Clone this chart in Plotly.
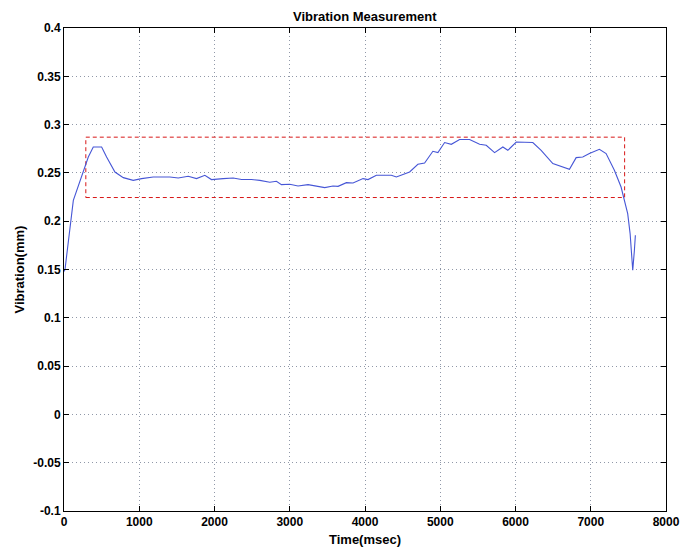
import plotly.graph_objects as go

time_ms = [0, 13, 124, 190, 279, 323, 389, 500, 566, 677, 788, 920, 1031, 1186, 1407, 1518,
           1651, 1761, 1872, 1960, 2115, 2248, 2359, 2492, 2602, 2735, 2823, 2890, 3000, 3110,
           3243, 3354, 3465, 3575, 3642, 3753, 3841, 3974, 4040, 4151, 4350, 4417, 4593, 4703,
           4792, 4902, 4969, 5058, 5147, 5257, 5390, 5523, 5611, 5722, 5832, 5898, 6010, 6230,
           6341, 6496, 6717, 6806, 6894, 6982, 7115, 7204, 7314, 7403, 7447, 7491, 7523, 7558,
           7580, 7593]
vibration = [0.148, 0.150, 0.2216, 0.2372, 0.2579, 0.2665, 0.2768, 0.2768, 0.2665, 0.2509,
             0.2451, 0.2423, 0.2441, 0.2458, 0.2458, 0.2447, 0.2465, 0.2441, 0.2475, 0.2431,
             0.2441, 0.2447, 0.2431, 0.2431, 0.2423, 0.2403, 0.2413, 0.2379, 0.2382, 0.2364,
             0.2379, 0.2361, 0.2348, 0.2364, 0.2361, 0.2399, 0.2395, 0.2441, 0.2431, 0.2475,
             0.2475, 0.2458, 0.2510, 0.2589, 0.2602, 0.2724, 0.2710, 0.2814, 0.2796, 0.2845,
             0.2845, 0.2796, 0.2786, 0.2710, 0.2768, 0.2734, 0.2820, 0.2814, 0.2734, 0.2596,
             0.2537, 0.2658, 0.2665, 0.2700, 0.2744, 0.2700, 0.2527, 0.2354, 0.2216, 0.2079,
             0.1872, 0.1492, 0.1699, 0.1855]

box_x = [290, 7450]
box_y = [0.2245, 0.287]

x_ticks = [0, 1000, 2000, 3000, 4000, 5000, 6000, 7000, 8000]
y_ticks = [-0.1, -0.05, 0, 0.05, 0.1, 0.15, 0.2, 0.25, 0.3, 0.35, 0.4]
y_labels = ["-0.1", "-0.05", "0", "0.05", "0.1", "0.15", "0.2", "0.25", "0.3", "0.35", "0.4"]

title_text = "Vibration Measurement"
x_title = "Time(msec)"
y_title = "Vibration(mm)"

fig = go.Figure()
fig.add_trace(go.Scatter(
    x=[box_x[0], box_x[1], box_x[1], box_x[0], box_x[0]],
    y=[box_y[0], box_y[0], box_y[1], box_y[1], box_y[0]],
    mode="lines", line=dict(color="#d81818", width=1, dash="4px,3px"),
    hoverinfo="skip", showlegend=False))
fig.add_trace(go.Scatter(
    x=time_ms, y=vibration, mode="lines",
    line=dict(color="#4656d6", width=1.1), showlegend=False))

font_family = "Liberation Sans, Arial, sans-serif"
tick_font = dict(family=font_family, size=12, color="black", weight="bold")
label_font = dict(family=font_family, size=13, color="black", weight="bold")

axis_common = dict(
    showline=True, linecolor="black", linewidth=1, mirror="ticks",
    ticks="inside", ticklen=5, tickcolor="black",
    showgrid=True, gridcolor="#9098a8", griddash="1px,3px", gridwidth=1,
    zeroline=False, automargin=False,
    tickfont=tick_font,
)

fig.update_layout(
    width=689, height=553,
    margin=dict(l=56, r=31, t=20, b=50),
    paper_bgcolor="white", plot_bgcolor="white",
    xaxis=dict(range=[0, 8000], tickvals=x_ticks, ticktext=[str(v) for v in x_ticks],
               **axis_common),
    yaxis=dict(range=[-0.1, 0.4], tickvals=y_ticks, ticktext=y_labels,
               **axis_common),
    annotations=[
        dict(text=title_text, xref="paper", yref="paper", x=0.5, y=1, xanchor="center",
             yanchor="middle", yshift=12, borderpad=0, showarrow=False, font=label_font),
        dict(text=x_title, xref="paper", yref="paper", x=0.5, y=0, xanchor="center",
             yanchor="middle", yshift=-28, showarrow=False, font=label_font),
        dict(text=y_title, xref="paper", yref="paper", x=0, y=0.5, xanchor="center",
             yanchor="middle", xshift=-45, textangle=-90, showarrow=False, font=label_font),
    ],
)

fig.write_html("out.html")
